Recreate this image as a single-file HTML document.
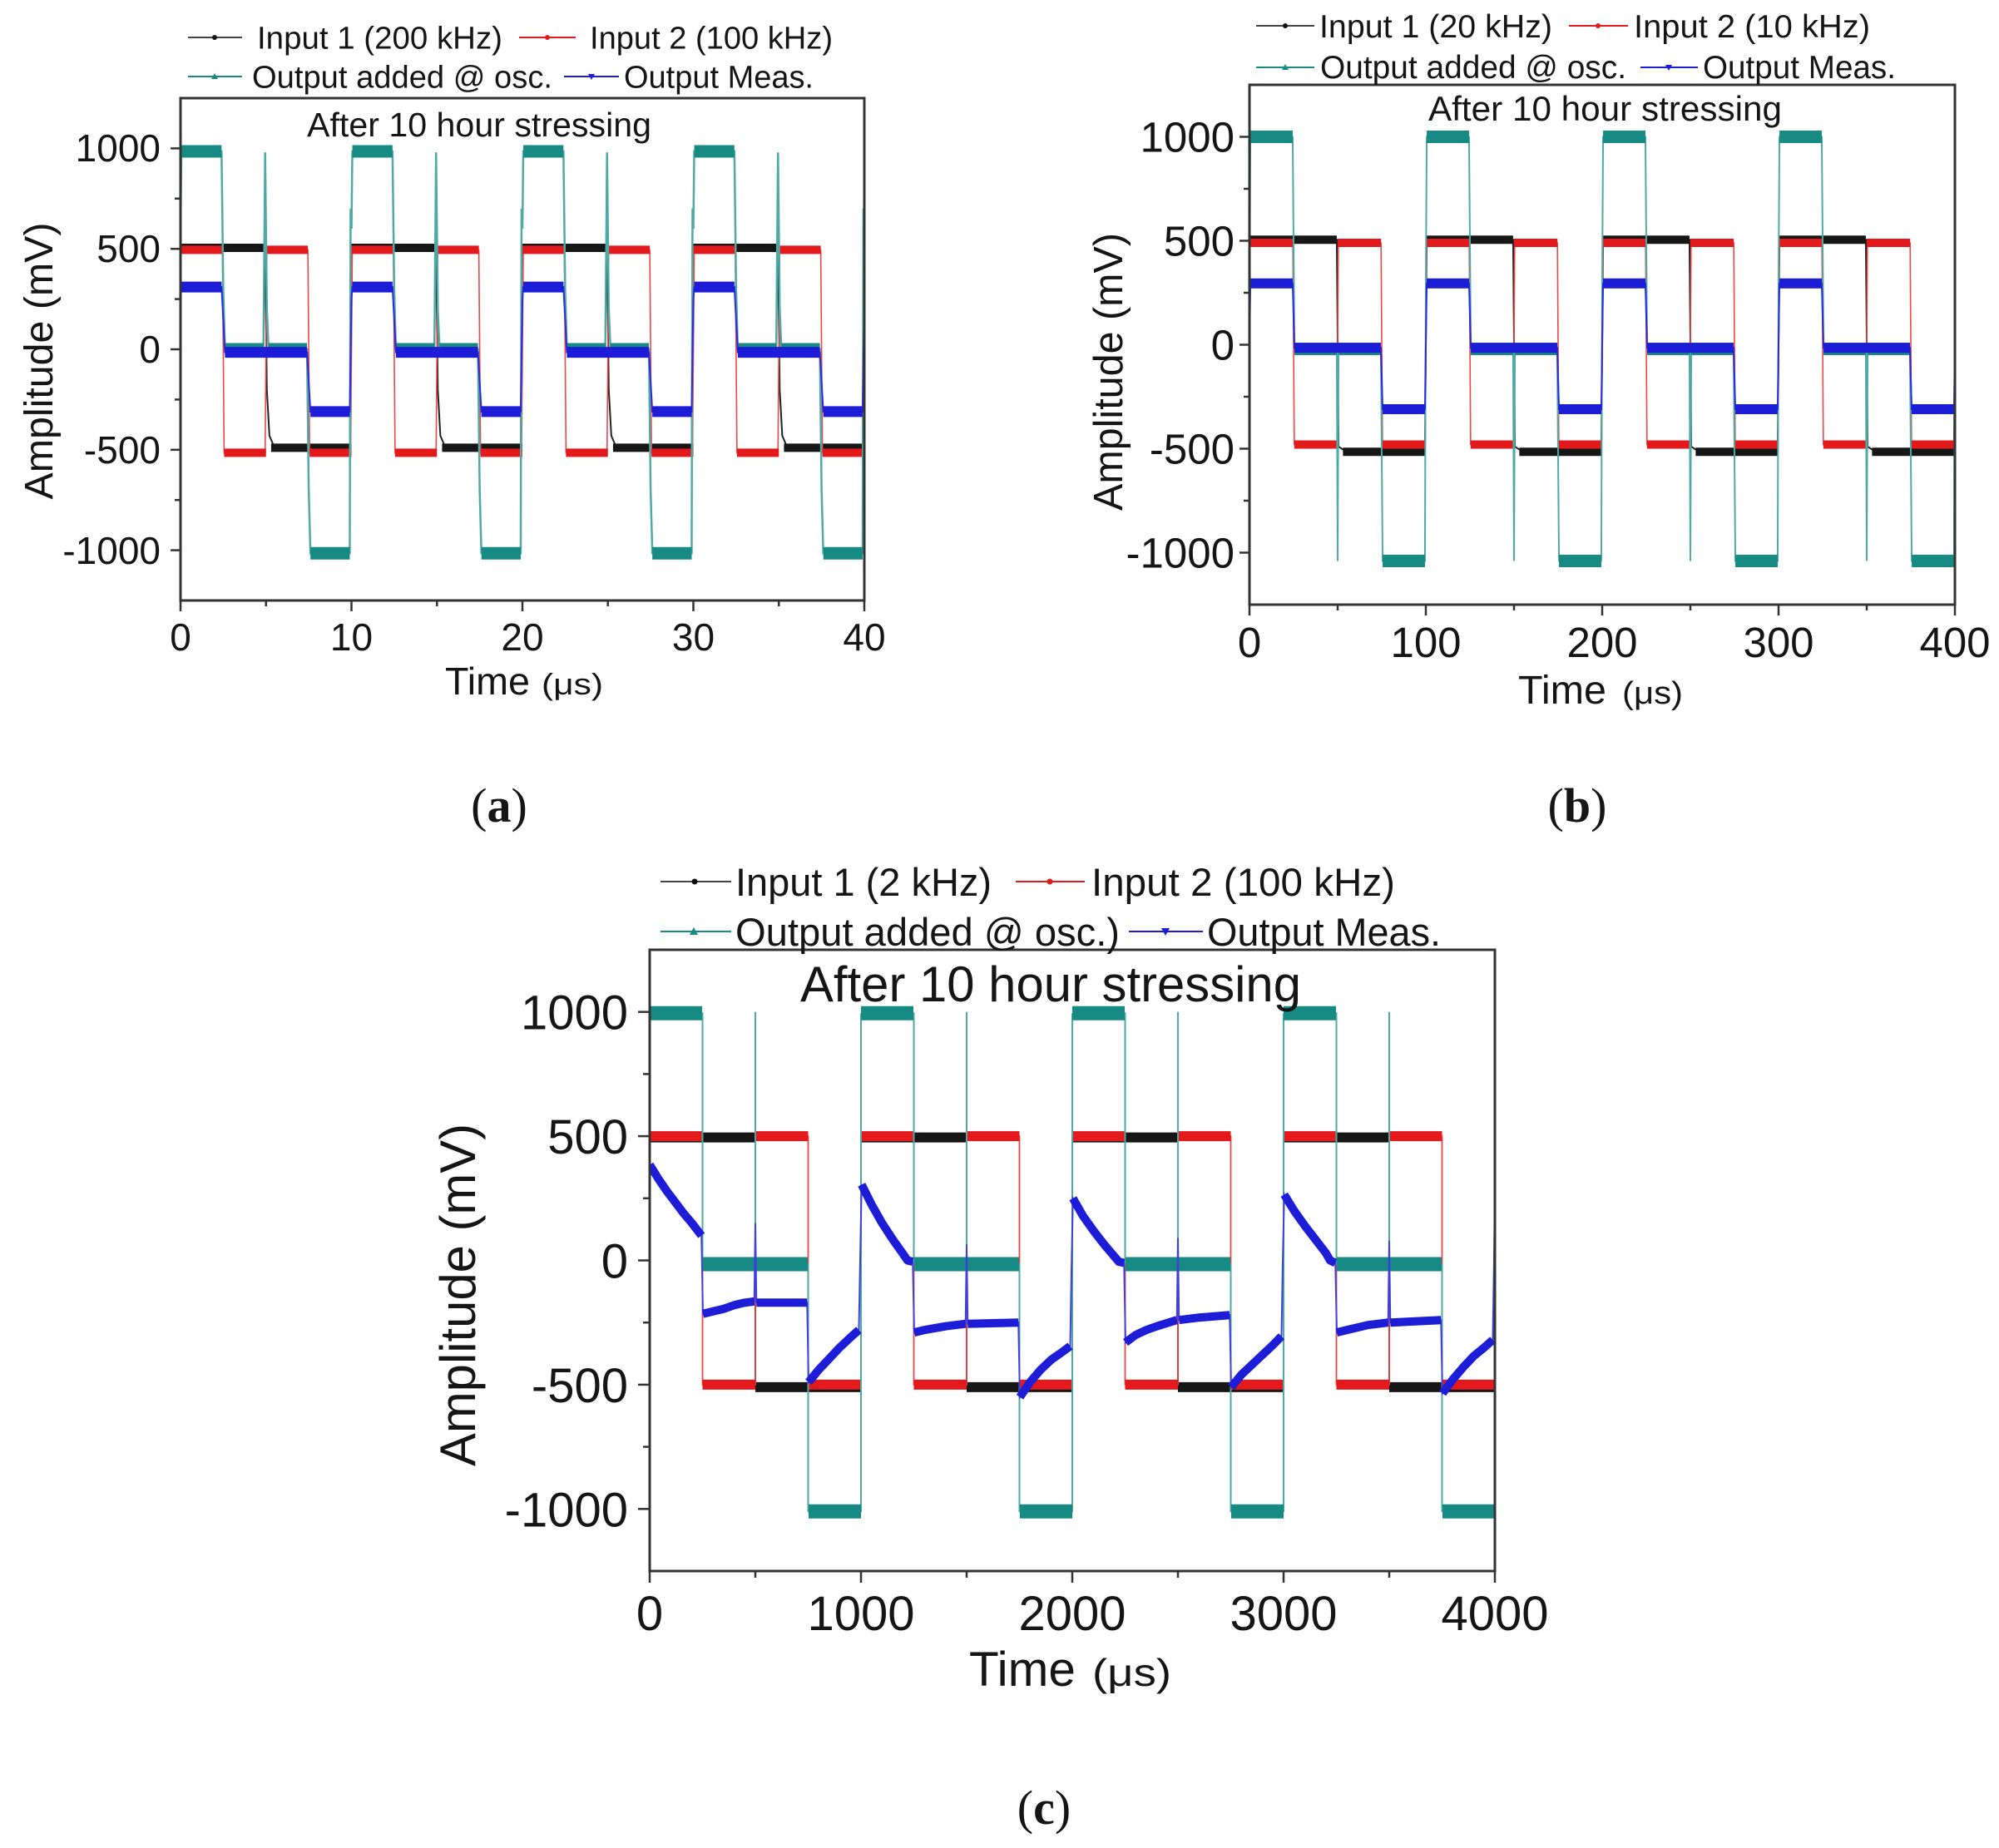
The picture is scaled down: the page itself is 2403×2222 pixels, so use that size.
<!DOCTYPE html>
<html><head><meta charset="utf-8"><style>
html,body{margin:0;padding:0;background:#fff}
svg{display:block}
text{font-family:"Liberation Sans",Arial,sans-serif;fill:#151515}
.ser{font-family:"Liberation Serif","Times New Roman",serif}
</style></head><body>
<svg width="2403" height="2222" viewBox="0 0 2403 2222">
<defs>
<clipPath id="ca"><rect x="218" y="119" width="820" height="602"/></clipPath>
<clipPath id="cb"><rect x="1503" y="103" width="846" height="623"/></clipPath>
<clipPath id="cc"><rect x="782" y="1143" width="1014" height="745"/></clipPath>

<!-- chart (a) patterns -->
<g id="a_bk">
<path d="M0,505 H4.95 L5.05,-200 L5.2,-430 L5.5,-490 H9.9 L10,505" fill="none" stroke="#222" stroke-width="2" vector-effect="non-scaling-stroke"/>
<path d="M0,505 H4.95 M5.3,-490 H10" fill="none" stroke="#161616" stroke-width="10" vector-effect="non-scaling-stroke"/>
</g>
<g id="a_rd">
<path d="M0,495 H2.45 L2.55,-515 H4.95 L5.05,495" fill="none" stroke="#e84848" stroke-width="1.6" vector-effect="non-scaling-stroke"/>
<path d="M0,495 H2.45 M2.55,-515 H5" fill="none" stroke="#e3191c" stroke-width="10" vector-effect="non-scaling-stroke"/>
</g>
<g id="a_tl">
<path d="M0,600 L0.05,985 H2.4 L2.5,300 L2.6,0 H4.85 L4.95,980 L5.05,200 L5.15,0 H7.4 L7.5,-700 L7.6,-1015 H9.9 L9.95,700 L10,600" fill="none" stroke="#4fa9a4" stroke-width="2.5" vector-effect="non-scaling-stroke"/>
<path d="M0.05,985 H2.4 M2.6,0 H4.85 M5.15,0 H7.4 M7.6,-1015 H9.9" fill="none" stroke="#168a83" stroke-width="15" vector-effect="non-scaling-stroke"/>
</g>
<g id="a_bl">
<path d="M0,250 L0.05,310 H2.4 L2.6,-15 H7.4 L7.6,-310 H9.9 L10,250" fill="none" stroke="#2a2ae0" stroke-width="2" vector-effect="non-scaling-stroke"/>
<path d="M0.05,310 H2.4 M2.6,-15 H7.4 M7.6,-310 H9.9" fill="none" stroke="#1d1dd8" stroke-width="13" vector-effect="non-scaling-stroke"/>
</g>

<!-- chart (b) patterns -->
<g id="b_bk">
<path d="M0,505 H49.5 L50.5,-490 L55,-515 H99.5 L100.5,505" fill="none" stroke="#222" stroke-width="2" vector-effect="non-scaling-stroke"/>
<path d="M0,505 H49.5 M53,-515 H100" fill="none" stroke="#161616" stroke-width="10" vector-effect="non-scaling-stroke"/>
</g>
<g id="b_rd">
<path d="M0,490 H24.6 L25.4,-480 H49.6 L50.4,490" fill="none" stroke="#e84848" stroke-width="1.6" vector-effect="non-scaling-stroke"/>
<path d="M0,490 H24.6 M25.4,-480 H50" fill="none" stroke="#e3191c" stroke-width="10" vector-effect="non-scaling-stroke"/>
</g>
<g id="b_tl">
<path d="M0,300 L0.5,1000 H24.5 L25.5,-20 H49.5 L50,-1040 L50.5,-20 H74.5 L75.5,-1040 H99.5 L100,300" fill="none" stroke="#4fa9a4" stroke-width="2" vector-effect="non-scaling-stroke"/>
<path d="M0.5,1000 H24.5 M25.5,-20 H49.5 M50.5,-20 H74.5 M75.5,-1040 H99.5" fill="none" stroke="#168a83" stroke-width="15" vector-effect="non-scaling-stroke"/>
</g>
<g id="b_bl">
<path d="M0,0 L0.5,295 H24.5 L25.5,-15 H74.5 L75.5,-310 H99.5 L100,0" fill="none" stroke="#2a2ae0" stroke-width="2" vector-effect="non-scaling-stroke"/>
<path d="M0.5,295 H24.5 M25.5,-15 H74.5 M75.5,-310 H99.5" fill="none" stroke="#1d1dd8" stroke-width="12" vector-effect="non-scaling-stroke"/>
</g>

<!-- chart (c) patterns -->
<g id="c_bk">
<path d="M0,495 H500 V-510 H1000 V495" fill="none" stroke="#222" stroke-width="2" vector-effect="non-scaling-stroke"/>
<path d="M0,495 H500 M500,-510 H1000" fill="none" stroke="#161616" stroke-width="12" vector-effect="non-scaling-stroke"/>
</g>
<g id="c_rd">
<path d="M0,500 H250 V-500 H500 V500" fill="none" stroke="#e84848" stroke-width="1.8" vector-effect="non-scaling-stroke"/>
<path d="M0,500 H250 M250,-500 H500" fill="none" stroke="#e3191c" stroke-width="12" vector-effect="non-scaling-stroke"/>
</g>
<g id="c_tl">
<path d="M0,995 H250 V-15 H500 V1000 V-15 H750 V-1010 H1000 V995" fill="none" stroke="#4fa9a4" stroke-width="2" vector-effect="non-scaling-stroke"/>
<path d="M0,995 H248 M252,-15 H498 M502,-15 H748 M752,-1010 H1000" fill="none" stroke="#168a83" stroke-width="17" vector-effect="non-scaling-stroke"/>
</g>
</defs>

<!-- ================= CHART (a) ================= -->
<g clip-path="url(#ca)">
<g transform="translate(217,420) scale(20.55,-0.2416)">
<use href="#a_bk" x="0"/><use href="#a_bk" x="10"/><use href="#a_bk" x="20"/><use href="#a_bk" x="30"/>
<use href="#a_rd" x="0"/><use href="#a_rd" x="5"/><use href="#a_rd" x="10"/><use href="#a_rd" x="15"/>
<use href="#a_rd" x="20"/><use href="#a_rd" x="25"/><use href="#a_rd" x="30"/><use href="#a_rd" x="35"/><use href="#a_rd" x="40"/>
<use href="#a_tl" x="0"/><use href="#a_tl" x="10"/><use href="#a_tl" x="20"/><use href="#a_tl" x="30"/>
<use href="#a_bl" x="0"/><use href="#a_bl" x="10"/><use href="#a_bl" x="20"/><use href="#a_bl" x="30"/>
</g>
</g>
<rect x="217" y="118" width="822" height="604" fill="none" stroke="#333" stroke-width="3"/>
<g stroke="#333" stroke-width="2.5">
<line x1="205" y1="178.4" x2="217" y2="178.4"/><line x1="205" y1="299.2" x2="217" y2="299.2"/>
<line x1="205" y1="420" x2="217" y2="420"/><line x1="205" y1="540.8" x2="217" y2="540.8"/>
<line x1="205" y1="661.6" x2="217" y2="661.6"/>
<line x1="210" y1="238.8" x2="217" y2="238.8"/><line x1="210" y1="359.6" x2="217" y2="359.6"/>
<line x1="210" y1="480.4" x2="217" y2="480.4"/><line x1="210" y1="601.2" x2="217" y2="601.2"/>
<line x1="217" y1="722" x2="217" y2="735"/><line x1="422.5" y1="722" x2="422.5" y2="735"/>
<line x1="628" y1="722" x2="628" y2="735"/><line x1="833.5" y1="722" x2="833.5" y2="735"/>
<line x1="1039" y1="722" x2="1039" y2="735"/>
<line x1="319.75" y1="722" x2="319.75" y2="729"/><line x1="525.25" y1="722" x2="525.25" y2="729"/>
<line x1="730.75" y1="722" x2="730.75" y2="729"/><line x1="936.25" y1="722" x2="936.25" y2="729"/>
</g>
<g font-size="46" text-anchor="end">
<text x="193" y="194">1000</text><text x="193" y="315">500</text><text x="193" y="436">0</text>
<text x="193" y="557">-500</text><text x="193" y="678">-1000</text>
</g>
<g font-size="46" text-anchor="middle">
<text x="217" y="782">0</text><text x="422.5" y="782">10</text><text x="628" y="782">20</text>
<text x="833.5" y="782">30</text><text x="1039" y="782">40</text>
</g>
<text x="535" y="835" font-size="46" textLength="102" lengthAdjust="spacingAndGlyphs">Time</text>
<text x="651" y="835" font-size="36" textLength="74" lengthAdjust="spacingAndGlyphs">(μs)</text>
<text transform="translate(63,434) rotate(-90)" font-size="48" text-anchor="middle" textLength="333" lengthAdjust="spacingAndGlyphs">Amplitude (mV)</text>
<text x="369" y="164" font-size="41" textLength="414" lengthAdjust="spacingAndGlyphs">After 10 hour stressing</text>
<!-- legend (a) -->
<line x1="226" y1="45" x2="291" y2="45" stroke="#444" stroke-width="2"/><circle cx="258" cy="45" r="3" fill="#111"/>
<text x="309" y="58.5" font-size="38" textLength="295" lengthAdjust="spacingAndGlyphs">Input 1 (200 kHz)</text>
<line x1="624" y1="45" x2="692" y2="45" stroke="#e3191c" stroke-width="2"/><circle cx="658" cy="45" r="3" fill="#e3191c"/>
<text x="709" y="58.5" font-size="38" textLength="292" lengthAdjust="spacingAndGlyphs">Input 2 (100 kHz)</text>
<line x1="226" y1="92" x2="291" y2="92" stroke="#168a83" stroke-width="2"/><polygon points="254,95 262,95 258,88" fill="#168a83"/>
<text x="303" y="105.5" font-size="38" textLength="361" lengthAdjust="spacingAndGlyphs">Output added @ osc.</text>
<line x1="678" y1="92" x2="744" y2="92" stroke="#1d1dd8" stroke-width="2"/><polygon points="707,89 715,89 711,96" fill="#1d1dd8"/>
<text x="750" y="105.5" font-size="38" textLength="228" lengthAdjust="spacingAndGlyphs">Output Meas.</text>
<text class="ser" x="600" y="988" font-size="58" text-anchor="middle">(<tspan font-weight="bold">a</tspan>)</text>

<!-- ================= CHART (b) ================= -->
<g clip-path="url(#cb)">
<g transform="translate(1502,414.5) scale(2.12,-0.25)">
<use href="#b_bk" x="0"/><use href="#b_bk" x="100"/><use href="#b_bk" x="200"/><use href="#b_bk" x="300"/>
<use href="#b_rd" x="0"/><use href="#b_rd" x="50"/><use href="#b_rd" x="100"/><use href="#b_rd" x="150"/>
<use href="#b_rd" x="200"/><use href="#b_rd" x="250"/><use href="#b_rd" x="300"/><use href="#b_rd" x="350"/>
<use href="#b_tl" x="0"/><use href="#b_tl" x="100"/><use href="#b_tl" x="200"/><use href="#b_tl" x="300"/>
<use href="#b_bl" x="0"/><use href="#b_bl" x="100"/><use href="#b_bl" x="200"/><use href="#b_bl" x="300"/>
</g>
</g>
<rect x="1502" y="102" width="848" height="625" fill="none" stroke="#333" stroke-width="3"/>
<g stroke="#333" stroke-width="2.5">
<line x1="1490" y1="164.5" x2="1502" y2="164.5"/><line x1="1490" y1="289.5" x2="1502" y2="289.5"/>
<line x1="1490" y1="414.5" x2="1502" y2="414.5"/><line x1="1490" y1="539.5" x2="1502" y2="539.5"/>
<line x1="1490" y1="664.5" x2="1502" y2="664.5"/>
<line x1="1495" y1="227" x2="1502" y2="227"/><line x1="1495" y1="352" x2="1502" y2="352"/>
<line x1="1495" y1="477" x2="1502" y2="477"/><line x1="1495" y1="602" x2="1502" y2="602"/>
<line x1="1502" y1="727" x2="1502" y2="740"/><line x1="1714" y1="727" x2="1714" y2="740"/>
<line x1="1926" y1="727" x2="1926" y2="740"/><line x1="2138" y1="727" x2="2138" y2="740"/>
<line x1="2350" y1="727" x2="2350" y2="740"/>
<line x1="1608" y1="727" x2="1608" y2="734"/><line x1="1820" y1="727" x2="1820" y2="734"/>
<line x1="2032" y1="727" x2="2032" y2="734"/><line x1="2244" y1="727" x2="2244" y2="734"/>
</g>
<g font-size="51" text-anchor="end">
<text x="1484" y="182.5">1000</text><text x="1484" y="307.5">500</text><text x="1484" y="432.5">0</text>
<text x="1484" y="557.5">-500</text><text x="1484" y="682.5">-1000</text>
</g>
<g font-size="51" text-anchor="middle">
<text x="1502" y="790">0</text><text x="1714" y="790">100</text><text x="1926" y="790">200</text>
<text x="2138" y="790">300</text><text x="2350" y="790">400</text>
</g>
<text x="1825" y="846" font-size="48" textLength="106" lengthAdjust="spacingAndGlyphs">Time</text>
<text x="1950" y="846" font-size="38" textLength="73" lengthAdjust="spacingAndGlyphs">(μs)</text>
<text transform="translate(1349,447) rotate(-90)" font-size="49" text-anchor="middle" textLength="334" lengthAdjust="spacingAndGlyphs">Amplitude (mV)</text>
<text x="1717" y="145" font-size="42" textLength="425" lengthAdjust="spacingAndGlyphs">After 10 hour stressing</text>
<!-- legend (b) -->
<line x1="1510" y1="31" x2="1580" y2="31" stroke="#444" stroke-width="2"/><circle cx="1545" cy="31" r="3" fill="#111"/>
<text x="1586" y="45" font-size="39" textLength="280" lengthAdjust="spacingAndGlyphs">Input 1 (20 kHz)</text>
<line x1="1886" y1="31" x2="1957" y2="31" stroke="#e3191c" stroke-width="2"/><circle cx="1921" cy="31" r="3" fill="#e3191c"/>
<text x="1964" y="45" font-size="39" textLength="284" lengthAdjust="spacingAndGlyphs">Input 2 (10 kHz)</text>
<line x1="1510" y1="81" x2="1580" y2="81" stroke="#168a83" stroke-width="2"/><polygon points="1541,84 1549,84 1545,77" fill="#168a83"/>
<text x="1587" y="94" font-size="39" textLength="368" lengthAdjust="spacingAndGlyphs">Output added @ osc.</text>
<line x1="1972" y1="81" x2="2041" y2="81" stroke="#1d1dd8" stroke-width="2"/><polygon points="2002,78 2010,78 2006,85" fill="#1d1dd8"/>
<text x="2047" y="94" font-size="39" textLength="232" lengthAdjust="spacingAndGlyphs">Output Meas.</text>
<text class="ser" x="1896" y="988" font-size="58" text-anchor="middle">(<tspan font-weight="bold">b</tspan>)</text>

<!-- ================= CHART (c) ================= -->
<g clip-path="url(#cc)">
<g transform="translate(781,1515.5) scale(0.254,-0.2988)">
<use href="#c_bk" x="0"/><use href="#c_bk" x="1000"/><use href="#c_bk" x="2000"/><use href="#c_bk" x="3000"/>
<use href="#c_rd" x="0"/><use href="#c_rd" x="500"/><use href="#c_rd" x="1000"/><use href="#c_rd" x="1500"/>
<use href="#c_rd" x="2000"/><use href="#c_rd" x="2500"/><use href="#c_rd" x="3000"/><use href="#c_rd" x="3500"/>
<use href="#c_tl" x="0"/><use href="#c_tl" x="1000"/><use href="#c_tl" x="2000"/><use href="#c_tl" x="3000"/>
<path d="M0,385 L40,330 L80,280 L120,235 L160,190 L200,150 L245,100 L252,-215 L300,-205 L350,-195 L400,-180 L450,-170 L495,-165 L500,150 L505,-170 L745,-170 L752,-490 L800,-440 L850,-395 L900,-350 L950,-310 L990,-280 L996,0 L1003,305 L1050,225 L1100,150 L1150,85 L1200,25 L1220,0 L1245,-5 L1252,-290 L1300,-280 L1400,-265 L1495,-255 L1500,65 L1505,-255 L1745,-250 L1752,-550 L1800,-490 L1850,-440 L1900,-400 L1950,-370 L1990,-345 L1996,-50 L2003,250 L2050,180 L2100,120 L2150,65 L2200,15 L2220,-5 L2245,-10 L2252,-330 L2300,-300 L2350,-280 L2400,-265 L2495,-240 L2500,90 L2505,-240 L2600,-230 L2745,-220 L2752,-510 L2800,-460 L2850,-420 L2900,-380 L2950,-340 L2990,-305 L2996,-10 L3003,265 L3050,200 L3100,140 L3150,85 L3200,30 L3220,0 L3245,-10 L3252,-290 L3300,-280 L3400,-260 L3495,-250 L3500,80 L3505,-250 L3745,-240 L3752,-535 L3800,-480 L3850,-430 L3900,-385 L3950,-350 L3990,-320 L3996,0 L4000,300" fill="none" stroke="#4040d8" stroke-width="2" vector-effect="non-scaling-stroke"/>
<path d="M0,385 L40,330 L80,280 L120,235 L160,190 L200,150 L245,100 M252,-215 L300,-205 L350,-195 L400,-180 L450,-170 L495,-165 M505,-170 L745,-170 M752,-490 L800,-440 L850,-395 L900,-350 L950,-310 L990,-280 M1003,305 L1050,225 L1100,150 L1150,85 L1200,25 L1220,0 L1245,-5 M1252,-290 L1300,-280 L1400,-265 L1495,-255 M1505,-255 L1745,-250 M1752,-550 L1800,-490 L1850,-440 L1900,-400 L1950,-370 L1990,-345 M2003,250 L2050,180 L2100,120 L2150,65 L2200,15 L2220,-5 L2245,-10 M2252,-330 L2300,-300 L2350,-280 L2400,-265 L2495,-240 M2505,-240 L2600,-230 L2745,-220 M2752,-510 L2800,-460 L2850,-420 L2900,-380 L2950,-340 L2990,-305 M3003,265 L3050,200 L3100,140 L3150,85 L3200,30 L3220,0 L3245,-10 M3252,-290 L3300,-280 L3400,-260 L3495,-250 M3505,-250 L3745,-240 M3752,-535 L3800,-480 L3850,-430 L3900,-385 L3950,-350 L3990,-320" fill="none" stroke="#1d1dd8" stroke-width="10" stroke-linejoin="round" vector-effect="non-scaling-stroke"/>
</g>
</g>
<rect x="781" y="1142" width="1016" height="747" fill="none" stroke="#333" stroke-width="3"/>
<g stroke="#333" stroke-width="2.5">
<line x1="767" y1="1216.7" x2="781" y2="1216.7"/><line x1="767" y1="1366.1" x2="781" y2="1366.1"/>
<line x1="767" y1="1515.5" x2="781" y2="1515.5"/><line x1="767" y1="1664.9" x2="781" y2="1664.9"/>
<line x1="767" y1="1814.3" x2="781" y2="1814.3"/>
<line x1="773" y1="1291.4" x2="781" y2="1291.4"/><line x1="773" y1="1440.8" x2="781" y2="1440.8"/>
<line x1="773" y1="1590.2" x2="781" y2="1590.2"/><line x1="773" y1="1739.6" x2="781" y2="1739.6"/>
<line x1="781" y1="1889" x2="781" y2="1903"/><line x1="1035" y1="1889" x2="1035" y2="1903"/>
<line x1="1289" y1="1889" x2="1289" y2="1903"/><line x1="1543" y1="1889" x2="1543" y2="1903"/>
<line x1="1797" y1="1889" x2="1797" y2="1903"/>
<line x1="908" y1="1889" x2="908" y2="1897"/><line x1="1162" y1="1889" x2="1162" y2="1897"/>
<line x1="1416" y1="1889" x2="1416" y2="1897"/><line x1="1670" y1="1889" x2="1670" y2="1897"/>
</g>
<g font-size="58" text-anchor="end">
<text x="755" y="1237.7">1000</text><text x="755" y="1387.1">500</text><text x="755" y="1536.5">0</text>
<text x="755" y="1685.9">-500</text><text x="755" y="1835.3">-1000</text>
</g>
<g font-size="58" text-anchor="middle">
<text x="781" y="1960">0</text><text x="1035" y="1960">1000</text><text x="1289" y="1960">2000</text>
<text x="1543" y="1960">3000</text><text x="1797" y="1960">4000</text>
</g>
<text x="1165" y="2027" font-size="58" textLength="128" lengthAdjust="spacingAndGlyphs">Time</text>
<text x="1313" y="2027" font-size="46" textLength="95" lengthAdjust="spacingAndGlyphs">(μs)</text>
<text transform="translate(571,1557) rotate(-90)" font-size="60" text-anchor="middle" textLength="412" lengthAdjust="spacingAndGlyphs">Amplitude (mV)</text>
<text x="962" y="1204" font-size="60" textLength="602" lengthAdjust="spacingAndGlyphs">After 10 hour stressing</text>
<!-- legend (c) -->
<line x1="794" y1="1060" x2="879" y2="1060" stroke="#444" stroke-width="2"/><circle cx="835" cy="1060" r="3.5" fill="#111"/>
<text x="884" y="1077" font-size="47" textLength="308" lengthAdjust="spacingAndGlyphs">Input 1 (2 kHz)</text>
<line x1="1221" y1="1060" x2="1304" y2="1060" stroke="#e3191c" stroke-width="2"/><circle cx="1262" cy="1060" r="3.5" fill="#e3191c"/>
<text x="1312" y="1077" font-size="47" textLength="365" lengthAdjust="spacingAndGlyphs">Input 2 (100 kHz)</text>
<line x1="794" y1="1120" x2="879" y2="1120" stroke="#168a83" stroke-width="2"/><polygon points="829,1124 839,1124 834,1115" fill="#168a83"/>
<text x="884" y="1137" font-size="47" textLength="462" lengthAdjust="spacingAndGlyphs">Output added @ osc.)</text>
<line x1="1357" y1="1120" x2="1446" y2="1120" stroke="#1d1dd8" stroke-width="2"/><polygon points="1396,1116 1406,1116 1401,1125" fill="#1d1dd8"/>
<text x="1451" y="1137" font-size="47" textLength="281" lengthAdjust="spacingAndGlyphs">Output Meas.</text>
<text class="ser" x="1255" y="2193" font-size="58" text-anchor="middle">(<tspan font-weight="bold">c</tspan>)</text>
</svg>
</body></html>
